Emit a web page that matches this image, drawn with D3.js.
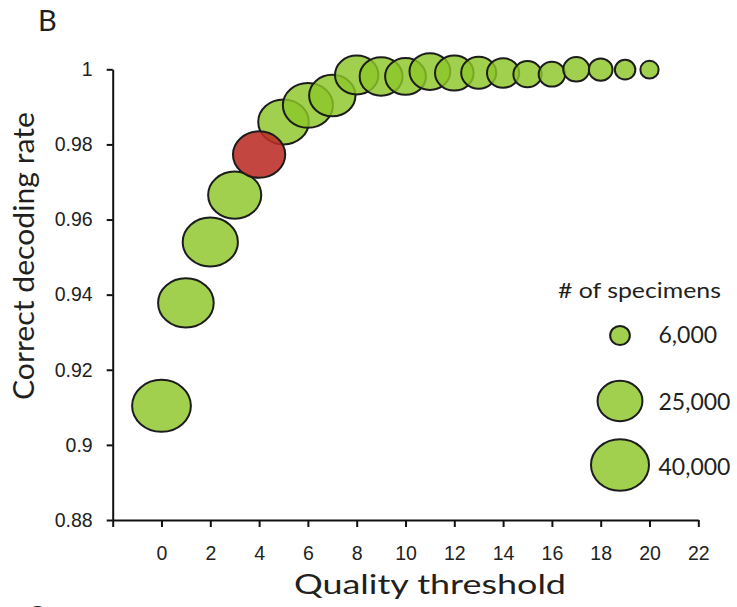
<!DOCTYPE html>
<html>
<head>
<meta charset="utf-8">
<script src="https://cdn.jsdelivr.net/npm/d3@7/dist/d3.min.js"></script>
<style>
  html, body { margin: 0; padding: 0; background: #fff; }
  svg { display: block; }
  .tick text { font-family: "Liberation Sans", Arial, sans-serif; font-size: 19.5px; fill: #222; }
  .title { font-family: Lato, "Open Sans", sans-serif; fill: #231f20; }
</style>
</head>
<body>
<svg id="chart" width="737" height="607"></svg>
<script>
// Quality threshold applied to each specimen
const thresholds = [0, 1, 2, 3, 4, 5, 6, 7, 8, 9, 10, 11, 12, 13, 14, 15, 16, 17, 18, 19, 20];
// Share of specimens decoded correctly at each threshold
const decodingRate = [0.9104, 0.9378, 0.9540, 0.9665, 0.9773, 0.9860, 0.9904, 0.9930, 0.9985, 0.9981,
                      0.9981, 0.9994, 0.9990, 0.9991, 0.9990, 0.9987, 0.9987, 1.0000, 0.9999, 0.9999, 0.9999];
// Number of specimens kept at each threshold
const specimens = [41000, 37000, 36500, 34000, 33000, 31000, 30500, 26500, 23500, 23000,
                   21000, 21000, 19000, 16000, 13800, 11000, 9800, 9600, 8100, 6400, 5300];
// Threshold chosen for the analysis (shown in red)
const selectedThreshold = 4;

const xTickValues = [-2, 0, 2, 4, 6, 8, 10, 12, 14, 16, 18, 20, 22];
const xTickLabels = ["", "0", "2", "4", "6", "8", "10", "12", "14", "16", "18", "20", "22"];
const yTickValues = [0.88, 0.90, 0.92, 0.94, 0.96, 0.98, 1.00];
const yTickLabels = ["0.88", "0.9", "0.92", "0.94", "0.96", "0.98", "1"];

const legendValues = [6000, 25000, 40000];
const legendLabels = ["6,000", "25,000", "40,000"];

const svg = d3.select("#chart");

const x = d3.scaleLinear().domain([-2, 22]).range([112.7, 698.3]);
const y = d3.scaleLinear().domain([0.88, 1.0]).range([520, 69.3]);
// Bubble area follows the specimen count; the figure is slightly wider than tall
const rx = d3.scaleSqrt().domain([6000, 40000]).range([9.85, 29]);
const ry = d3.scaleSqrt().domain([6000, 40000]).range([9.5, 25.65]);

const greenFill = "#8cc628";
const redFill = "#bb2e26";
const outline = "#1c1c1c";

// Axes
const yAxis = d3.axisLeft(y)
  .tickValues(yTickValues)
  .tickFormat((d, i) => yTickLabels[i])
  .tickSize(6).tickSizeOuter(0).tickPadding(14);
const xAxis = d3.axisBottom(x)
  .tickValues(xTickValues)
  .tickFormat((d, i) => xTickLabels[i])
  .tickSize(7).tickSizeOuter(0).tickPadding(19);

const gy = svg.append("g").attr("transform", `translate(${x(-2)},0)`).call(yAxis);
const gx = svg.append("g").attr("transform", `translate(0,${y(0.88)})`).call(xAxis);
[gx, gy].forEach(g => {
  g.select(".domain").attr("stroke", "#111").attr("stroke-width", 2);
  g.selectAll(".tick line").attr("stroke", "#111").attr("stroke-width", 2);
});
gx.selectAll(".tick text").attr("dy", "0.71em");

// Bubbles: green first, the selected threshold on top
const points = thresholds.map((t, i) => ({ t, rate: decodingRate[i], n: specimens[i] }));
const ordered = points.filter(p => p.t !== selectedThreshold)
  .concat(points.filter(p => p.t === selectedThreshold));

svg.append("g").selectAll("ellipse")
  .data(ordered)
  .join("ellipse")
  .attr("cx", d => x(d.t))
  .attr("cy", d => y(d.rate))
  .attr("rx", d => rx(d.n))
  .attr("ry", d => ry(d.n))
  .attr("fill", d => d.t === selectedThreshold ? redFill : greenFill)
  .attr("fill-opacity", d => d.t === selectedThreshold ? 0.88 : 0.82)
  .attr("stroke", outline)
  .attr("stroke-width", 2);

// Axis titles
svg.append("text").attr("class", "title")
  .attr("x", 430).attr("y", 594)
  .attr("text-anchor", "middle")
  .attr("font-size", 27)
  .attr("textLength", 272).attr("lengthAdjust", "spacingAndGlyphs")
  .text("Quality threshold");

svg.append("text").attr("class", "title")
  .attr("transform", "translate(34,256) rotate(-90)")
  .attr("text-anchor", "middle")
  .attr("font-size", 29)
  .attr("textLength", 288).attr("lengthAdjust", "spacingAndGlyphs")
  .text("Correct decoding rate");

// Panel letters
svg.append("text").attr("class", "title")
  .attr("x", 38).attr("y", 30.7)
  .attr("font-size", 29)
  .text("B");
svg.append("text").attr("class", "title")
  .attr("x", 26).attr("y", 627)
  .attr("font-size", 29)
  .text("C");

// Legend
const legend = svg.append("g");
legend.append("text").attr("class", "title")
  .attr("x", 558).attr("y", 298)
  .attr("font-size", 21)
  .attr("textLength", 163).attr("lengthAdjust", "spacingAndGlyphs")
  .text("# of specimens");

const legendCy = [335.5, 401, 465];
const legendBaseline = [343.3, 410, 475];
legendValues.forEach((v, i) => {
  legend.append("ellipse")
    .attr("cx", 620).attr("cy", legendCy[i])
    .attr("rx", rx(v)).attr("ry", ry(v))
    .attr("fill", greenFill).attr("fill-opacity", 0.82)
    .attr("stroke", outline).attr("stroke-width", 2);
  legend.append("text").attr("class", "title")
    .attr("x", 658.5).attr("y", legendBaseline[i])
    .attr("font-size", 23)
    .text(legendLabels[i]);
});
</script>
</body>
</html>
